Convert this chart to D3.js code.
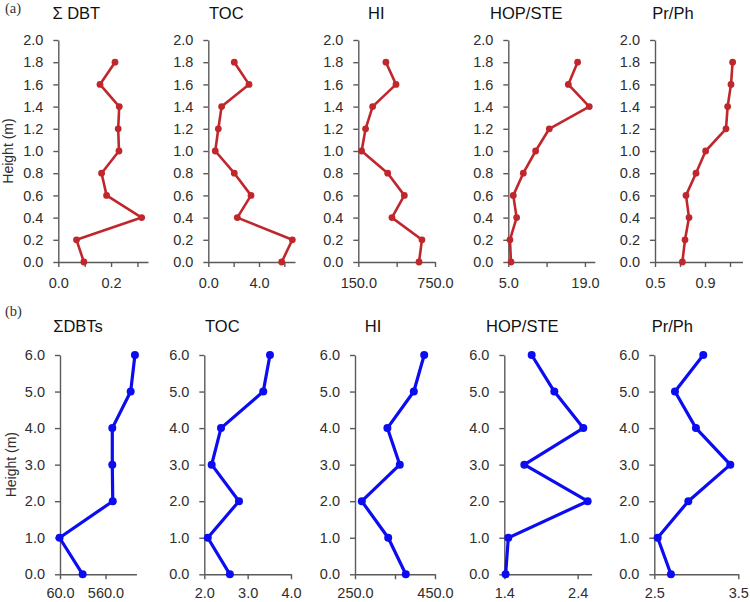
<!DOCTYPE html>
<html>
<head>
<meta charset="utf-8">
<script src="https://cdn.jsdelivr.net/npm/d3@7"></script>
<style>
  body { margin: 0; background: #fff; }
  svg { display: block; }
  .tick text { font-family: "Liberation Sans", Arial, sans-serif; font-size: 14.5px; fill: #2e2e2e; }
  .domain, .tick line { stroke: #5a5a5a; stroke-width: 1.4; }
</style>
</head>
<body>
<svg id="chart" width="750" height="602"></svg>
<script>
// ---------- DATA ----------
const rowTitles = ["(a)", "(b)"];
const yLabel = "Height (m)";

// Row (a)
const heightsA = [1.8, 1.6, 1.4, 1.2, 1.0, 0.8, 0.6, 0.4, 0.2, 0.0];
const titlesA = ["Σ DBT", "TOC", "HI", "HOP/STE", "Pr/Ph"];
const dbtA  = [0.215, 0.158, 0.231, 0.227, 0.230, 0.164, 0.183, 0.316, 0.069, 0.097];
const tocA  = [2.05, 3.21, 1.05, 0.79, 0.55, 2.05, 3.37, 2.29, 6.63, 5.79];
const hiA   = [366, 445, 262, 207, 176, 380, 510, 413, 648, 625];
const hopA  = [17.66, 15.96, 19.79, 12.49, 9.99, 7.74, 5.91, 6.52, 5.30, 5.49];
const prA   = [1.121, 1.108, 1.081, 1.068, 0.905, 0.828, 0.748, 0.772, 0.740, 0.719];
const yTicksA = [0, 0.2, 0.4, 0.6, 0.8, 1.0, 1.2, 1.4, 1.6, 1.8, 2.0];
const xTicksA = [[0, 0.1, 0.2, 0.3], [0, 2, 4, 6], [150, 450, 750], [5, 12, 19], [0.5, 0.7, 0.9, 1.1]];
const xLabelsA = [[0, 0.2], [0, 4], [150, 750], [5, 19], [0.5, 0.9]];
const xDomainsA = [[0, 0.34], [0, 6.84], [150, 750], [5, 20.8], [0.5, 1.2]];

// Row (b)
const heightsB = [6, 5, 4, 3, 2, 1, 0];
const titlesB = ["ΣDBTs", "TOC", "HI", "HOP/STE", "Pr/Ph"];
const dbtB  = [884, 837, 635, 635, 640, 55, 309];
const tocB  = [3.515, 3.36, 2.385, 2.17, 2.80, 2.08, 2.59];
const hiB   = [423, 397, 331, 362, 267, 333, 377];
const hopB  = [1.773, 2.082, 2.477, 1.673, 2.536, 1.455, 1.418];
const prB   = [3.083, 2.746, 2.996, 3.405, 2.905, 2.54, 2.698];
const yTicksB = [0, 1, 2, 3, 4, 5, 6];
const xTicksB = [[60, 560], [2, 3, 4], [250, 350, 450], [1.4, 2.4], [2.5, 3.5]];
const xLabelsB = [[60, 560], [2, 3, 4], [250, 450], [1.4, 2.4], [2.5, 3.5]];
const xDomainsB = [[60, 900], [2, 4], [250, 450], [1.4, 2.59], [2.5, 3.5]];

// ---------- LAYOUT ----------
const rows = [
  {
    tag: rowTitles[0], heights: heightsA, titles: titlesA,
    series: [dbtA, tocA, hiA, hopA, prA],
    yDomain: [0, 2], yRange: [262, 40], yTicks: yTicksA,
    xTicks: xTicksA, xLabels: xLabelsA, xDomains: xDomainsA,
    xRanges: [[58.3, 148], [208.3, 295], [358.3, 435], [508.3, 594.8], [655, 742.5]],
    titleY: 19, tagY: 13, labelX: 13, color: "#c0272d", lw: 2.6, r: 3.4, xPad: 11
  },
  {
    tag: rowTitles[1], heights: heightsB, titles: titlesB,
    series: [dbtB, tocB, hiB, hopB, prB],
    yDomain: [0, 6], yRange: [574.3, 355], yTicks: yTicksB,
    xTicks: xTicksB, xLabels: xLabelsB, xDomains: xDomainsB,
    xRanges: [[60, 136.4], [204.3, 291], [355, 435], [504.3, 591.6], [654.3, 738.3]],
    titleY: 332, tagY: 316, labelX: 16, color: "#0c0cf0", lw: 3.2, r: 4, xPad: 8.5
  }
];

const svg = d3.select("#chart");
svg.append("rect").attr("width", 750).attr("height", 602).attr("fill", "#fff");

rows.forEach(row => {
  const y = d3.scaleLinear().domain(row.yDomain).range(row.yRange);

  svg.append("text")
    .attr("x", 5).attr("y", row.tagY)
    .attr("font-family", "Liberation Serif, Times New Roman, serif")
    .attr("font-size", 14.5).attr("fill", "#333")
    .text(row.tag);

  const yMid = (row.yRange[0] + row.yRange[1]) / 2;
  svg.append("text")
    .attr("transform", `translate(${row.labelX},${yMid}) rotate(-90)`)
    .attr("text-anchor", "middle")
    .attr("font-family", "Liberation Sans, Arial, sans-serif")
    .attr("font-size", 14).attr("fill", "#2e2e2e")
    .text(yLabel);

  row.series.forEach((vals, i) => {
    const x = d3.scaleLinear().domain(row.xDomains[i]).range(row.xRanges[i]);
    const g = svg.append("g");
    const x0 = row.xRanges[i][0];

    // title
    g.append("text")
      .attr("x", x0 + 18).attr("y", row.titleY)
      .attr("text-anchor", "middle")
      .attr("font-family", "Liberation Sans, Arial, sans-serif")
      .attr("font-size", 16.5).attr("fill", "#111")
      .text(row.titles[i]);

    // y axis
    g.append("g")
      .attr("transform", `translate(${x0},0)`)
      .call(d3.axisLeft(y).tickValues(row.yTicks).tickSize(5).tickSizeOuter(0).tickPadding(10)
        .tickFormat(d3.format(".1f")));

    // x axis
    const labels = row.xLabels[i];
    g.append("g")
      .attr("transform", `translate(0,${row.yRange[0]})`)
      .call(d3.axisBottom(x).tickValues(row.xTicks[i]).tickSize(5).tickSizeOuter(0).tickPadding(row.xPad)
        .tickFormat(d => labels.some(l => Math.abs(l - d) < 1e-9) ? d3.format(".1f")(d) : ""));

    // line
    const pts = vals.map((v, k) => [v, row.heights[k]]);
    g.append("path")
      .datum(pts)
      .attr("fill", "none")
      .attr("stroke", row.color)
      .attr("stroke-width", row.lw)
      .attr("stroke-linejoin", "round")
      .attr("d", d3.line().x(d => x(d[0])).y(d => y(d[1])));

    g.selectAll("circle")
      .data(pts)
      .join("circle")
      .attr("cx", d => x(d[0]))
      .attr("cy", d => y(d[1]))
      .attr("r", row.r)
      .attr("fill", row.color);
  });
});
</script>
</body>
</html>
